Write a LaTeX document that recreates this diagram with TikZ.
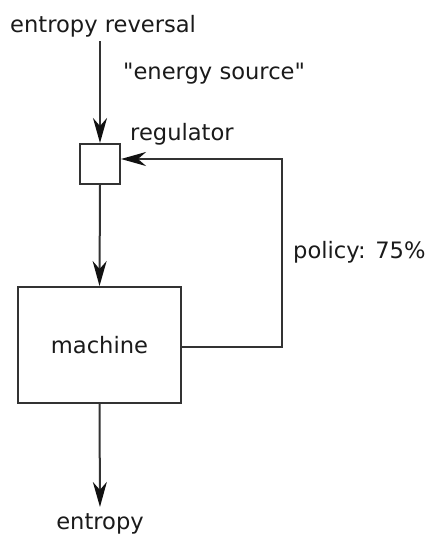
\documentclass[tikz,border=0pt]{standalone}
\usepackage{fontspec}
\setmainfont{DejaVu Sans}[Ligatures=TeXOff]
\usetikzlibrary{arrows.meta}
\definecolor{ln}{HTML}{333333}
\definecolor{tip}{HTML}{111111}
\definecolor{tx}{HTML}{1A1A1A}
\begin{document}
\begin{tikzpicture}[x=1pt,y=-1pt,
  txt/.style={inner sep=0pt,text=tx,font=\fontsize{22.6}{27}\selectfont},
  box/.style={draw=ln,line width=2pt,inner sep=0pt,fill=white},
  conn/.style={draw=ln,line width=2pt,-{Stealth[length=25pt,width=14pt,inset=8pt,color=tip]}}]
\useasboundingbox (0,0) rectangle (426,534);
\node[txt,anchor=base west] (src) at (10,32.5) {entropy reversal};
\node[txt,anchor=base west] (lab1) at (123,80) {"energy source"};
\node[txt,anchor=base west] (lab2) at (130,141) {regulator};
\node[box,minimum size=40pt] (reg) at (100,164) {};
\node[box,txt,draw=ln,line width=2pt,minimum width=163pt,minimum height=116pt] (mach) at (99.5,345) {machine};
\node[txt,anchor=base west] (lab3) at (293,258) {policy: 75\%};
\node[txt,anchor=base] (snk) at (100,529) {entropy};
\draw[conn,shorten <=4pt] (src.south -| reg.north) -- (reg.north);
\draw[conn] (reg.south) -- (mach.north);
\draw[conn,shorten >=6pt] (mach.south) -- (snk.north);
\draw[conn] ([yshift=-2pt]mach.east) -| (281.5,250) |- ([yshift=5pt]reg.east);
\end{tikzpicture}
\end{document}
